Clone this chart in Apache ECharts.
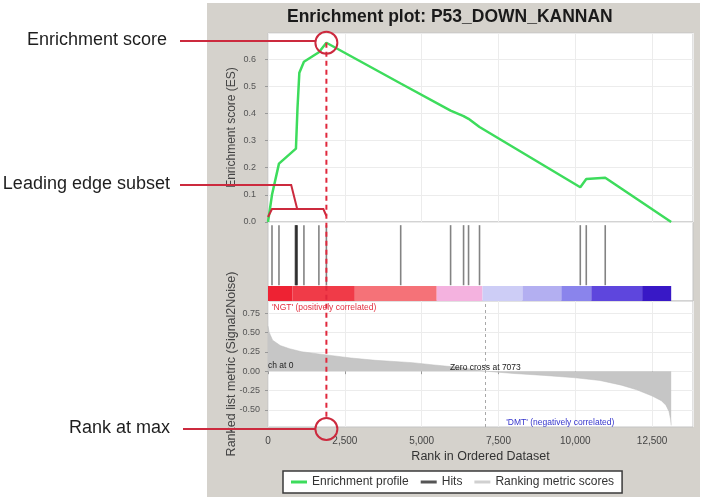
<!DOCTYPE html>
<html>
<head>
<meta charset="utf-8">
<script src="https://cdn.jsdelivr.net/npm/echarts@6/dist/echarts.min.js"></script>
<style>
html, body { margin: 0; padding: 0; background: #fff; }
#chart { width: 705px; height: 499px; }
</style>
</head>
<body>
<div id="chart"></div>
<script>
// running enrichment score
var esRank  = [0, 130, 357, 909, 960, 1020, 1169, 1656, 1900, 4318, 5942, 6364, 6526, 6883, 10162, 10357, 10974, 13120];
var esValue = [0, 0.10, 0.215, 0.27, 0.42, 0.55, 0.59, 0.625, 0.66, 0.51, 0.41, 0.39, 0.38, 0.35, 0.128, 0.158, 0.163, 0];

// positions of gene set members in the ranked list
var hitRanks = [130, 357, 890, 905, 920, 935, 950, 1169, 1656, 1900, 4318, 5942, 6364, 6526, 6883, 10162, 10357, 10974];

// ranked list metric (Signal2Noise)
var metricRank  = [0, 40, 150, 400, 700, 1100, 1900, 2700, 3500, 4700, 5400, 6200, 7073, 8000, 9000, 10000, 10800, 11500, 12000, 12500, 12800, 12950, 13050, 13100, 13120];
var metricValue = [0.58, 0.50, 0.40, 0.33, 0.29, 0.25, 0.21, 0.17, 0.14, 0.11, 0.08, 0.05, 0, -0.03, -0.055, -0.085, -0.12, -0.18, -0.24, -0.32, -0.38, -0.44, -0.52, -0.62, -0.70];

// heat bar under the hits
var barEdges  = [0, 800, 2825, 5490, 6980, 8280, 9545, 10520, 12175, 13120];
var barColors = ['#ee2233', '#f03b48', '#f57278', '#f4b2df', '#cdcdf6', '#b3aff1', '#8a84ec', '#5e46dd', '#3818c6'];

var peakRank = 1900;
var peakES = 0.66;
var zeroCross = 7073;
var yMetricTicks = [-0.5, -0.25, 0, 0.25, 0.5, 0.75];

var FONT = 'Liberation Sans';
var chart = echarts.init(document.getElementById('chart'));

var esData = esRank.map(function (r, i) { return [r, esValue[i]]; });
var metricData = metricRank.map(function (r, i) { return [r, metricValue[i]]; });
var hitData = hitRanks.map(function (r) { return [r]; });
var barData = barColors.map(function (c, i) { return [barEdges[i], barEdges[i + 1], i]; });

var xBase = { min: 0, max: 13830, interval: 2500 };

var option = {
    animation: false,
    title: {
        text: 'Enrichment plot: P53_DOWN_KANNAN',
        left: 282, top: 3,
        textStyle: { fontSize: 17.5, fontWeight: 'bold', fontFamily: FONT, color: '#1a1a1a' }
    },
    legend: {
        left: 283, top: 471,
        backgroundColor: '#fff', borderColor: '#3a3a3a', borderWidth: 1.5,
        padding: [5, 8], itemGap: 12, itemWidth: 16, itemHeight: 3,
        selectedMode: false,
        textStyle: { fontSize: 12, color: '#333', fontFamily: FONT },
        data: [
            { name: 'Enrichment profile', icon: 'rect', itemStyle: { color: '#3ddc5c' } },
            { name: 'Hits', icon: 'rect', itemStyle: { color: '#555' } },
            { name: 'Ranking metric scores', icon: 'rect', itemStyle: { color: '#d0d0d0' } }
        ]
    },
    grid: [
        { left: 268, right: 12, top: 33, height: 189, show: true, backgroundColor: '#fff', borderColor: '#c4c4c4', borderWidth: 1 },
        { left: 268, right: 12, top: 222, height: 79, show: true, backgroundColor: '#fff', borderColor: '#c4c4c4', borderWidth: 1 },
        { left: 268, right: 12, top: 301, height: 126, show: true, backgroundColor: '#fff', borderColor: '#c4c4c4', borderWidth: 1 }
    ],
    xAxis: [
        Object.assign({ type: 'value', gridIndex: 0, axisLabel: { show: false }, axisTick: { show: false }, axisLine: { show: false },
            splitLine: { lineStyle: { color: '#ececec' } } }, xBase),
        Object.assign({ type: 'value', gridIndex: 1, axisLabel: { show: false }, axisTick: { show: false }, axisLine: { show: false },
            splitLine: { show: false } }, xBase),
        Object.assign({ type: 'value', gridIndex: 2, axisLine: { show: false },
            axisTick: { show: true, length: 3, lineStyle: { color: '#999' } },
            splitLine: { lineStyle: { color: '#ececec' } },
            axisLabel: { showMaxLabel: false, fontSize: 10, color: '#444', fontFamily: FONT, margin: 9,
                formatter: function (v) { return v.toLocaleString('en-US'); } },
            name: 'Rank in Ordered Dataset', nameLocation: 'middle', nameGap: 23,
            nameTextStyle: { fontSize: 12.5, color: '#333', fontFamily: FONT } }, xBase)
    ],
    yAxis: [
        { type: 'value', gridIndex: 0, min: 0, max: 0.696, interval: 0.1,
          axisLine: { show: false },
          axisTick: { show: true, length: 3, lineStyle: { color: '#999' } },
          splitLine: { lineStyle: { color: '#ececec' } },
          axisLabel: { showMaxLabel: false, fontSize: 9, color: '#555', fontFamily: FONT, margin: 12,
              formatter: function (v) { return v.toFixed(1); } },
          name: 'Enrichment score (ES)', nameLocation: 'middle', nameGap: 30, nameRotate: 90, nameMoveOverlap: false,
          nameTextStyle: { fontSize: 12, color: '#444', fontFamily: FONT } },
        { type: 'value', gridIndex: 1, min: 0, max: 1, show: false },
        { type: 'value', gridIndex: 2, min: -0.72, max: 0.905,
          axisLine: { show: false },
          axisTick: { show: true, length: 3, lineStyle: { color: '#999' }, customValues: yMetricTicks },
          splitLine: { lineStyle: { color: '#ececec' }, customValues: yMetricTicks },
          axisLabel: { fontSize: 9, color: '#555', fontFamily: FONT, margin: 8, customValues: yMetricTicks,
              formatter: function (v) { return v.toFixed(2); } },
          name: 'Ranked list metric (Signal2Noise)', nameLocation: 'middle', nameGap: 30, nameRotate: 90, nameMoveOverlap: false,
          nameTextStyle: { fontSize: 12.5, color: '#444', fontFamily: FONT } }
    ],
    series: [
        {
            name: 'Enrichment profile', type: 'line', xAxisIndex: 0, yAxisIndex: 0,
            data: esData, symbol: 'none', color: '#3ddc5c',
            lineStyle: { width: 2.5, color: '#3ddc5c' }, z: 3
        },
        {
            name: 'Hits', type: 'custom', xAxisIndex: 1, yAxisIndex: 1, color: '#555',
            data: hitData,
            renderItem: function (params, api) {
                var x = api.coord([api.value(0), 0])[0];
                var y0 = api.coord([0, 0.2])[1];
                var y1 = api.coord([0, 0.96])[1];
                return { type: 'line', shape: { x1: x, y1: y0, x2: x, y2: y1 },
                    style: { stroke: 'rgba(30,30,30,0.55)', lineWidth: 1.6 } };
            }
        },
        {
            name: 'heat', type: 'custom', xAxisIndex: 1, yAxisIndex: 1,
            data: barData,
            renderItem: function (params, api) {
                var p0 = api.coord([api.value(0), 0.19]);
                var p1 = api.coord([api.value(1), 0]);
                return { type: 'rect', shape: { x: p0[0], y: p0[1], width: p1[0] - p0[0], height: p1[1] - p0[1] },
                    style: { fill: barColors[api.value(2)] } };
            }
        },
        {
            name: 'Ranking metric scores', type: 'line', xAxisIndex: 2, yAxisIndex: 2,
            data: metricData, symbol: 'none', color: '#c6c6c6',
            lineStyle: { width: 0.5, color: '#bdbdbd' },
            areaStyle: { color: '#c6c6c6', opacity: 1 },
            markLine: {
                silent: true, symbol: 'none', label: { show: false },
                lineStyle: { type: [3, 3], color: '#a8a8a8', width: 1 },
                data: [{ xAxis: zeroCross }]
            }
        }
    ]
};
chart.setOption(option);

// annotations placed from the data positions
var pk = chart.convertToPixel({ xAxisIndex: 0, yAxisIndex: 0 }, [peakRank, peakES]);
var es0 = chart.convertToPixel({ xAxisIndex: 0, yAxisIndex: 0 }, [0, 0]);
var botY = chart.convertToPixel({ xAxisIndex: 2, yAxisIndex: 2 }, [0, -0.72])[1];
function mp(r, v) { return chart.convertToPixel({ xAxisIndex: 2, yAxisIndex: 2 }, [r, v]); }

var RED = '#cc2a3e';
var R = 11;
var cy2 = botY + 2;
var yb = es0[1] - 13;
var mid = (es0[0] + pk[0]) / 2;

function label(text, x, y, opts) {
    return {
        type: 'text', z: 20,
        style: Object.assign({ text: text, x: x, y: y, fill: '#1e1e1e', fontSize: 18, fontFamily: FONT,
            align: 'right', textAlign: 'right', verticalAlign: 'middle', textVerticalAlign: 'middle' }, opts || {})
    };
}

var nl = mp(130, 0.82), dl = mp(11270, -0.66), zl = mp(zeroCross, 0.05), cl = mp(0, 0.077);

chart.setOption({
    graphic: { elements: [
        { type: 'rect', z: -10, shape: { x: 207, y: 3, width: 493, height: 494 }, style: { fill: '#d5d2cc' } },
        label('Enrichment score', 167, 40),
        label('Leading edge subset', 170, 184),
        label('Rank at max', 170, 428),
        { type: 'line', z: 20, shape: { x1: 180, y1: 41, x2: pk[0] - R, y2: 41 }, style: { stroke: RED, lineWidth: 2 } },
        { type: 'line', z: 20, shape: { x1: 183, y1: cy2, x2: pk[0] - R, y2: cy2 }, style: { stroke: RED, lineWidth: 2 } },
        { type: 'polyline', z: 20, shape: { points: [[180, 185], [mid - 6, 185], [mid, yb]] }, style: { stroke: RED, lineWidth: 2, fill: null } },
        { type: 'polyline', z: 20, shape: { points: [[es0[0], yb + 8], [es0[0] + 4, yb], [pk[0] - 3, yb], [pk[0], yb + 7]] }, style: { stroke: RED, lineWidth: 2, fill: null } },
        { type: 'line', z: 20, shape: { x1: pk[0], y1: pk[1], x2: pk[0], y2: cy2 - R }, style: { stroke: '#e0283c', lineWidth: 2, lineDash: [5, 4] } },
        { type: 'circle', z: 21, shape: { cx: pk[0], cy: pk[1], r: R }, style: { fill: null, stroke: RED, lineWidth: 2 } },
        { type: 'circle', z: 21, shape: { cx: pk[0], cy: cy2, r: R }, style: { fill: null, stroke: RED, lineWidth: 2 } },
        label("'NGT' (positively correlated)", nl[0], nl[1], { fontSize: 8.5, fill: '#e23040', align: 'left', textAlign: 'left' }),
        label("'DMT' (negatively correlated)", dl[0], dl[1], { fontSize: 8.5, fill: '#3434cc' }),
        label('Zero cross at 7073', zl[0], zl[1], { fontSize: 8.5, fill: '#222', align: 'center', textAlign: 'center' }),
        label('ch at 0', cl[0], cl[1], { fontSize: 8.5, fill: '#222', align: 'left', textAlign: 'left' })
    ] }
});
</script>
</body>
</html>
